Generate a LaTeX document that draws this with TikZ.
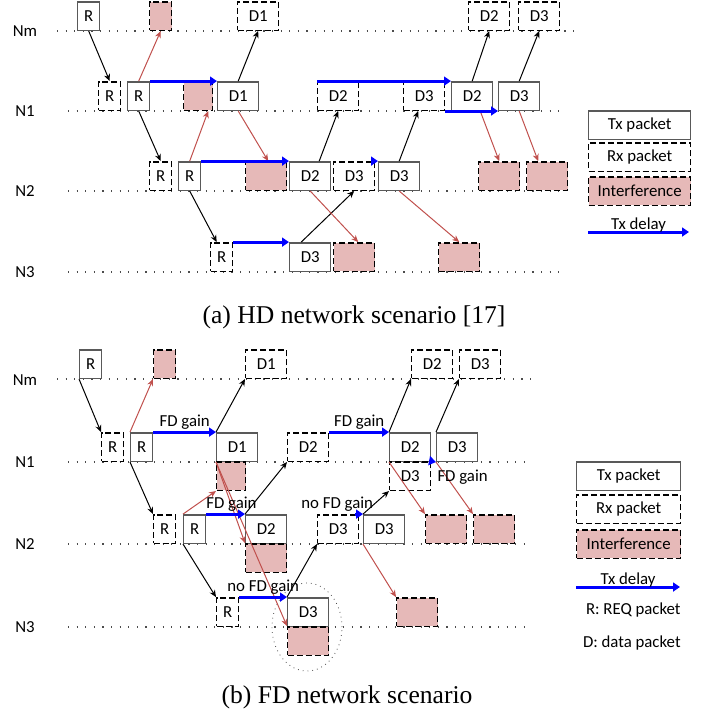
\documentclass[tikz,border=0pt]{standalone}
\usepackage{fontspec}
\setmainfont{Carlito}
\newfontfamily\capfont{Liberation Serif}
\usetikzlibrary{arrows.meta,shapes.geometric}

\definecolor{pktgray}{RGB}{89,89,89}
\definecolor{intfpink}{RGB}{230,185,184}
\definecolor{intfred}{RGB}{192,80,77}

\tikzstyle{pkt} = [rectangle, anchor=south west, minimum height=14.25pt, inner sep=0pt, line width=0.7pt, font=\fontsize{8.4}{10}\selectfont]
\tikzstyle{txbox} = [pkt, draw=pktgray]
\tikzstyle{rxbox} = [pkt, draw=black, dash pattern=on 3pt off 1.5pt]
\tikzstyle{intf} = [rxbox, fill=intfpink]
\tikzstyle{narrow} = [minimum width=11pt]
\tikzstyle{wide} = [minimum width=20.5pt]
\tikzstyle{legbox} = [minimum width=51pt]
\tikzstyle{sig} = [line width=0.5pt, -{Stealth[length=3.5pt,width=3pt]}]
\tikzstyle{leak} = [sig, color=intfred]
\tikzstyle{delay} = [color=blue, line width=1.5pt, -{Triangle[length=3.5pt,width=4.5pt]}]
\tikzstyle{timeline} = [line width=0.6pt, dash pattern=on 0.6pt off 3.7pt, draw=black!70]
\tikzstyle{gain} = [font=\fontsize{8.4}{10}\selectfont, inner sep=0pt, anchor=base, text=black]
\tikzstyle{lbl} = [font=\fontsize{8.4}{10}\selectfont, inner sep=0pt]
\tikzstyle{caption} = [font=\capfont\fontsize{12.8}{14}\selectfont, inner sep=0pt]

\begin{document}
\begin{tikzpicture}[x=0.5pt, y=-0.5pt]
    \useasboundingbox (0,0) rectangle (710,713);

    % (a) HD network scenario
    \node (aNm) [lbl] at (25,31) {Nm};
    \node (aN1) [lbl] at (25,111) {N1};
    \node (aN2) [lbl] at (25,191) {N2};
    \node (aN3) [lbl] at (25,272) {N3};
    \draw [timeline] (57,31) -- (575,31);
    \draw [timeline] (68,111) -- (565,111);
    \draw [timeline] (68,191) -- (565,191);
    \draw [timeline] (68,272) -- (565,272);

    \node (aMr) [txbox, narrow] at (77,31) {R};
    \node (aMi) [intf, narrow] at (149,31) {};
    \node (aMd1) [rxbox, wide] at (237,31) {D1};
    \node (aMd2) [rxbox, wide] at (468,31) {D2};
    \node (aMd3) [rxbox, wide] at (518,31) {D3};

    \node (aArx) [rxbox, narrow] at (98,111) {R};
    \node (aAr) [txbox, narrow] at (127,111) {R};
    \node (aAi) [intf, minimum width=14.5pt] at (183,111) {};
    \node (aAd1) [txbox, wide] at (217,111) {D1};
    \node (aArd2) [rxbox, wide] at (317,111) {D2};
    \node (aArd3) [rxbox, wide] at (403,111) {D3};
    \node (aAd2) [txbox, wide] at (451,111) {D2};
    \node (aAd3) [txbox, wide] at (498,111) {D3};

    \node (aBrx) [rxbox, narrow] at (149,191) {R};
    \node (aBr) [txbox, narrow] at (178,191) {R};
    \node (aBi) [intf, wide] at (245,191) {};
    \node (aBd2) [txbox, wide] at (289,191) {D2};
    \node (aBrd3) [rxbox, wide] at (333,191) {D3};
    \node (aBd3) [txbox, wide] at (378,191) {D3};
    \node (aBi2) [intf, wide] at (478,191) {};
    \node (aBi3) [intf, wide] at (526,191) {};

    \node (aCrx) [rxbox, narrow] at (210,272) {R};
    \node (aCd3) [txbox, wide] at (289,272) {D3};
    \node (aCi) [intf, wide] at (333,272) {};
    \node (aCi2) [intf, wide] at (438,272) {};

    \draw [sig] (aMr.south) -- (aArx.north);
    \draw [sig] (aAr.south) -- (aBrx.north);
    \draw [sig] (aBr.south) -- ([xshift=-2.5pt]aCrx.north);
    \draw [sig] (aAd1.north) -- (aMd1.south);
    \draw [sig] ([xshift=4.5pt]aBd2.north) -- (aArd2.south);
    \draw [sig] (aBd3.north) -- ([xshift=-3pt]aArd3.south);
    \draw [sig] (aAd2.north) -- (aMd2.south);
    \draw [sig] (aAd3.north) -- (aMd3.south);
    \draw [sig] ([xshift=-4.5pt]aCd3.north) -- (aBrd3.south);

    \draw [leak] (aAr.north) -- (aMi.south);
    \draw [leak] (aBr.north) -- ([xshift=5pt]aAi.south);
    \draw [leak] (aAd1.south) -- ([xshift=1pt]aBi.north);
    \draw [leak] (aBd2.south) -- ([xshift=2pt]aCi.north);
    \draw [leak] (aBd3.south) -- (aCi2.north);
    \draw [leak] ([xshift=4pt]aAd2.south) -- (aBi2.north);
    \draw [leak] (aAd3.south) -- ([xshift=-4.5pt]aBi3.north);

    \draw [delay] (aAr.north east) -- (aAd1.north west);
    \draw [delay] (aArd2.north west) -- (aAd2.north west);
    \draw [delay] (aArd3.south east) -- (aAd3.south west);
    \draw [delay] (aBr.north east) -- (aBd2.north west);
    \draw [delay] ([xshift=-2pt]aBrd3.north east) -- (aBd3.north west);
    \draw [delay] (aCrx.north east) -- (aCd3.north west);

    \node (aLtx) [txbox, legbox] at (588,140) {Tx packet};
    \node (aLrx) [rxbox, legbox] at (588,172) {Rx packet};
    \node (aLin) [intf, legbox] at (588,206) {Interference};
    \coordinate (aDlyA) at (588,232);
    \coordinate (aDlyB) at (689,232);
    \draw [delay] (aDlyA) -- node[gain, yshift=1.25pt] {Tx delay} (aDlyB);

    \node (capA) [caption] at (354,317) {(a) HD network scenario [17]};

    % (b) FD network scenario
    \node (bNm) [lbl] at (25,380) {Nm};
    \node (bN1) [lbl] at (25,462) {N1};
    \node (bN2) [lbl] at (25,544) {N2};
    \node (bN3) [lbl] at (25,627) {N3};
    \draw [timeline] (57,379) -- (535,379);
    \draw [timeline] (68,462) -- (532,462);
    \draw [timeline] (68,544) -- (532,544);
    \draw [timeline] (68,627) -- (532,627);

    \node (bMr) [txbox, narrow] at (79,379) {R};
    \node (bMi) [intf, narrow] at (153,379) {};
    \node (bMd1) [rxbox, wide] at (245,379) {D1};
    \node (bMd2) [rxbox, wide] at (411,379) {D2};
    \node (bMd3) [rxbox, wide] at (459,379) {D3};

    \node (bArx) [rxbox, narrow] at (101,462) {R};
    \node (bAr) [txbox, narrow] at (130,462) {R};
    \node (bAd1) [txbox, wide] at (216,462) {D1};
    \node (bAi) [intf, minimum width=14.5pt] at (216,491) {};
    \node (bArd2) [rxbox, wide] at (287,462) {D2};
    \node (bAd2) [txbox, wide] at (389,462) {D2};
    \node (bArd3) [rxbox, wide] at (389,491) {D3};
    \node (bAd3) [txbox, wide] at (436,462) {D3};

    \node (bBrx) [rxbox, narrow] at (153,544) {R};
    \node (bBr) [txbox, narrow] at (183,544) {R};
    \node (bBd2) [txbox, wide] at (245,544) {D2};
    \node (bBi) [intf, wide] at (245,573) {};
    \node (bBrd3) [rxbox, wide] at (317,544) {D3};
    \node (bBd3) [txbox, wide] at (363,544) {D3};
    \node (bBi2) [intf, wide] at (425,544) {};
    \node (bBi3) [intf, wide] at (473,544) {};

    \node (bCrx) [rxbox, narrow] at (216,627) {R};
    \node (bCd3) [txbox, wide] at (287,627) {D3};
    \node (bCi) [intf, wide] at (287,656) {};
    \node (bCi2) [intf, wide] at (396,627) {};
    \node (bFocus) [draw=black!70, dotted, ellipse, minimum width=35pt, minimum height=44pt, inner sep=0pt] at (307,627) {};

    \draw [sig] (bMr.south west) -- (bArx.north west);
    \draw [sig] (bAr.south west) -- (bBrx.north west);
    \draw [sig] (bBr.south west) -- (bCrx.north west);
    \draw [sig] (bAd1.north west) -- (bMd1.south west);
    \draw [sig] (bBd2.north west) -- (bArd2.south west);
    \draw [sig] (bBd3.north west) -- (bArd3.south west);
    \draw [sig] (bAd2.north west) -- (bMd2.south west);
    \draw [sig] (bAd3.north west) -- (bMd3.south west);
    \draw [sig] (bCd3.north west) -- (bBrd3.south west);

    \draw [leak] (bAr.north west) -- (bMi.south west);
    \draw [leak] (bBr.north west) -- (bAi.south west);
    \draw [leak] (bAd1.south west) -- (bBi.north west);
    \draw [leak] (bAd1.south west) -- (bCi.north west);
    \draw [leak] (bAd2.south west) -- (bBi2.north west);
    \draw [leak] (bAd3.south west) -- (bBi3.north west);
    \draw [leak] (bBd3.south west) -- (bCi2.north west);

    \draw [delay] (bAr.north east) -- node[gain, yshift=3pt] {FD gain} (bAd1.north west);
    \draw [delay] (bArd2.north east) -- node[gain, yshift=3pt] {FD gain} (bAd2.north west);
    \draw [delay] (bArd3.north east) -- node[gain, pos=1, anchor=base west, yshift=-9.5pt] {FD gain} (bAd3.south west);
    \draw [delay] (bBr.north east) -- node[gain, pos=0.65, yshift=3pt] {FD gain} (bBd2.north west);
    \draw [delay] ([xshift=-2pt]bBrd3.north east) -- node[gain, xshift=-11pt, yshift=3pt] {no FD gain} (bBd3.north west);
    \draw [delay] (bCrx.north east) -- node[gain, yshift=3pt] {no FD gain} (bCd3.north west);

    \node (bLtx) [txbox, minimum width=52pt] at (576,491) {Tx packet};
    \node (bLrx) [rxbox, minimum width=52pt] at (576,524) {Rx packet};
    \node (bLin) [intf, minimum width=52pt] at (576,559) {Interference};
    \coordinate (bDlyA) at (576,587);
    \coordinate (bDlyB) at (680,587);
    \draw [delay] (bDlyA) -- node[gain, yshift=1.25pt] {Tx delay} (bDlyB);
    \node (bReq) [lbl, anchor=east] at (681,610) {R: REQ packet};
    \node (bData) [lbl, anchor=east] at (681,643) {D: data packet};

    \node (capB) [caption] at (347,697) {(b) FD network scenario};
\end{tikzpicture}
\end{document}
